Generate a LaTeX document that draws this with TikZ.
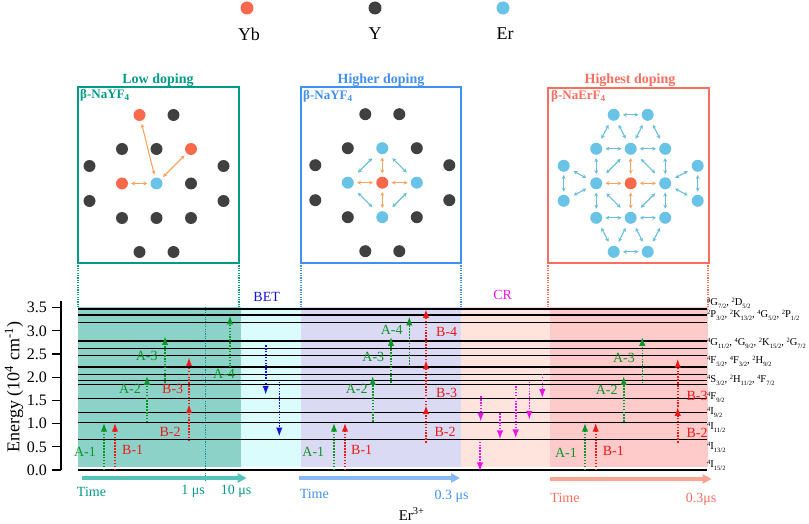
\documentclass[tikz,border=0pt]{standalone}
\usepackage{fontspec}
\setmainfont{Liberation Serif}
\usetikzlibrary{arrows.meta}

\definecolor{ybc}{RGB}{250,105,75}
\definecolor{yc}{RGB}{64,64,64}
\definecolor{erc}{RGB}{105,195,230}
\definecolor{orac}{RGB}{250,165,95}
\definecolor{latblue}{RGB}{105,190,220}
\definecolor{lowc}{RGB}{0,155,135}
\definecolor{highc}{RGB}{65,145,245}
\definecolor{topc}{RGB}{250,110,95}
\definecolor{lowbg}{RGB}{140,210,200}
\definecolor{betbg}{RGB}{218,252,252}
\definecolor{highbg}{RGB}{218,218,245}
\definecolor{crbg}{RGB}{255,228,222}
\definecolor{topbg}{RGB}{255,202,202}
\definecolor{greenA}{RGB}{10,150,40}
\definecolor{redB}{RGB}{240,25,25}
\definecolor{betc}{RGB}{20,20,225}
\definecolor{crc}{RGB}{235,20,235}
\definecolor{lowt}{RGB}{85,195,185}
\definecolor{hight}{RGB}{135,185,245}
\definecolor{topt}{RGB}{250,165,145}

\newcommand{\lv}[3]{\raisebox{3.6pt}{\fontsize{6.5}{6.5}\selectfont #1}#2\raisebox{-2.2pt}{\fontsize{6.5}{6.5}\selectfont #3}}

\begin{document}
\begin{tikzpicture}[x=1pt, y=-1pt,
    declare function={ey(\e)=470-46.4*\e;},
    atom/.style={circle, inner sep=0pt, minimum size=12pt},
    latarr/.style={line width=1.1pt, {Stealth[length=4pt,width=4pt]}-{Stealth[length=4pt,width=4pt]}, shorten <=3pt, shorten >=3pt},
    shortdiag/.style={latarr, shorten <=5pt, shorten >=5pt},
    longdiag/.style={latarr, shorten <=8pt, shorten >=8pt},
    level/.style={line width=1.1pt},
    upA/.style={greenA, line width=1.6pt, dash pattern=on 1.5pt off 1.4pt, -{Latex[length=9pt,width=6.5pt]}},
    upB/.style={upA, redB},
    downbet/.style={upA, betc},
    downcr/.style={upA, crc},
    lab/.style={font=\fontsize{14}{14}\selectfont, inner sep=0pt},
    lvlab/.style={font=\fontsize{10.5}{10.5}\selectfont, inner sep=0pt, anchor=west},
    timearr/.style={line width=3.5pt, -{Triangle[length=9pt,width=9pt]}},
    guide/.style={line width=1.1pt, dash pattern=on 1.2pt off 1.2pt},
    title/.style={font=\bfseries\fontsize{14}{14}\selectfont, inner sep=0pt},
    host/.style={font=\bfseries\fontsize{13}{13}\selectfont, inner sep=0pt, anchor=west},
]
\useasboundingbox (0,0) rectangle (809,524);

% legend
\node[atom, minimum size=13pt, fill=ybc] (dyb) at (247,8) {};
\node[atom, minimum size=13pt, fill=yc] (dy) at (375,8) {};
\node[atom, minimum size=13pt, fill=erc] (der) at (503,8) {};
\node[font=\fontsize{18}{18}\selectfont] (tyb) at (249,34) {Yb};
\node[font=\fontsize{18}{18}\selectfont] (ty) at (375,34) {Y};
\node[font=\fontsize{18}{18}\selectfont] (ter) at (505,34) {Er};

% lattice boxes
\draw[lowc, line width=1.3pt] (78,87) rectangle (239,263);
\draw[highc, line width=1.3pt] (301,87) rectangle (461,263);
\draw[topc, line width=1.3pt] (548,88) rectangle (709,263);
\node[title, lowc] (tlow) at (158,80) {Low doping};
\node[title, highc] (thigh) at (381,80) {Higher doping};
\node[title, topc] (ttop) at (630,80) {Highest doping};
\node[host, lowc] (hlow) at (80,95) {β-NaYF\textsubscript{4}};
\node[host, highc] (hhigh) at (303,96) {β-NaYF\textsubscript{4}};
\node[host, topc] (htop) at (551,96) {β-NaErF\textsubscript{4}};

% low doping
\foreach \n/\dx/\dy/\k in {t1/-17/-68.5/ybc, t2/17/-68.5/yc, a1/-34.5/-34.5/yc, a2/0/-34.5/yc,
    a3/34.5/-34.5/ybc, o1/-67/-17.5/yc, o2/67/-17.5/yc, m1/-34.5/0/ybc, m2/0/0/erc, m3/34.5/0/yc,
    o3/-67/17.5/yc, o4/67/17.5/yc, b1/-34.5/34.5/yc, b2/0/34.5/yc, b3/34.5/34.5/yc,
    u1/-17/68.5/yc, u2/17/68.5/yc}
  \node[atom, fill=\k] (L\n) at ({156.5+\dx},{183.5+\dy}) {};
\foreach \p in {t1, a3, m1}
  \draw[latarr, orac] (Lm2) -- (L\p);

% higher doping
\foreach \n/\dx/\dy/\k in {t1/-17/-68.5/yc, t2/17/-68.5/yc, a1/-34.5/-34.5/yc, a2/0/-34.5/erc,
    a3/34.5/-34.5/yc, o1/-67/-17.5/yc, o2/67/-17.5/yc, m1/-34.5/0/erc, m2/0/0/ybc, m3/34.5/0/erc,
    o3/-67/17.5/yc, o4/67/17.5/yc, b1/-34.5/34.5/yc, b2/0/34.5/erc, b3/34.5/34.5/yc,
    u1/-17/68.5/yc, u2/17/68.5/yc}
  \node[atom, fill=\k] (H\n) at ({382.3+\dx},{182.7+\dy}) {};
\foreach \p in {a2, m1, m3, b2}
  \draw[latarr, orac] (Hm2) -- (H\p);
\foreach \p/\q in {a2/m1, a2/m3, m1/b2, m3/b2}
  \draw[longdiag, latblue] (H\p) -- (H\q);

% highest doping
\foreach \n/\dx/\dy/\k in {t1/-17/-68.5/erc, t2/17/-68.5/erc, a1/-34.5/-34.5/erc, a2/0/-34.5/erc,
    a3/34.5/-34.5/erc, o1/-67/-17.5/erc, o2/67/-17.5/erc, m1/-34.5/0/erc, m2/0/0/ybc, m3/34.5/0/erc,
    o3/-67/17.5/erc, o4/67/17.5/erc, b1/-34.5/34.5/erc, b2/0/34.5/erc, b3/34.5/34.5/erc,
    u1/-17/68.5/erc, u2/17/68.5/erc}
  \node[atom, fill=\k] (T\n) at ({630.7+\dx},{183.3+\dy}) {};
\foreach \p/\q in {t1/t2, a1/a2, a2/a3, a1/m1, a3/m3, o1/o3, o2/o4, m1/b1, m3/b3, b1/b2, b2/b3, u1/u2}
  \draw[latarr, latblue] (T\p) -- (T\q);
\foreach \p/\q in {t1/a1, t1/a2, t2/a2, t2/a3, o1/m1, o3/m1, o2/m3, o4/m3, b1/u1, b2/u1, b2/u2, b3/u2}
  \draw[shortdiag, latblue] (T\p) -- (T\q);
\foreach \p/\q in {a2/m1, a2/m3, m1/b2, m3/b2}
  \draw[longdiag, latblue] (T\p) -- (T\q);
\foreach \p in {a2, m1, m3, b2}
  \draw[latarr, orac] (Tm2) -- (T\p);

% guides from the boxes
\draw[guide, lowc] (78,263) -- (78,307);
\draw[guide, lowc] (239,263) -- (239,307);
\draw[guide, highc] (301,263) -- (301,307);
\draw[guide, highc] (461,263) -- (461,307);
\draw[guide, topc] (548,263) -- (548,309);
\draw[guide, topc] (708,263) -- (708,307);

% energy diagram
\fill[lowbg] (78,307) rectangle (241,467);
\fill[betbg] (241,307) rectangle (301,467);
\fill[highbg] (301,307) rectangle (461,467);
\fill[crbg] (461,307) rectangle (550,467);
\fill[topbg] (550,307) rectangle (708,467);
\draw[guide, lowc] (205.7,307) -- (205.7,482);

\foreach \e in {0,0.66,1.03,1.24,1.54,1.84,1.92,2.05,2.21,2.24,2.46,2.62,2.76,2.79,3.17,3.33,3.36,3.47}
  \draw[level] (78,{ey(\e)}) -- (707,{ey(\e)});

\draw[line width=1.2pt] (61,301) -- (61,470);
\foreach \v/\t [count=\i] in {0/0.0, 0.5/0.5, 1/1.0, 1.5/1.5, 2/2.0, 2.5/2.5, 3/3.0, 3.5/3.5} {
  \draw[line width=1.2pt] (52,{ey(\v)}) -- (61,{ey(\v)});
  \node[anchor=east, font=\fontsize{16}{16}\selectfont, inner sep=0pt] (tick\i) at (47,{ey(\v)}) {\t};
}
\node[rotate=90, font=\fontsize{18}{18}\selectfont] (elab) at (14,387) {Energy (10\textsuperscript{4} cm\textsuperscript{-1})};

% transitions
\foreach \x/\a/\b in {104/0/1.02, 147/1.03/2.03, 165/1.88/2.89, 230/2.22/3.33,
    334/0/1.02, 372.7/1.04/2.03, 391/1.88/2.87, 409.3/2.27/3.31,
    585/0/1.02, 623.7/1.04/2.03, 642.3/1.87/2.87}
  \draw[upA] (\x,{ey(\a)}) -- (\x,{ey(\b)});
\foreach \x/\a/\b in {115/0/1.02, 189/0.62/1.42, 189/1.42/2.43,
    345/0/1.02, 426/0.59/1.40, 426/1.40/2.37, 426/2.37/3.47,
    595.7/0/1.02, 677.7/0.59/1.36, 677.7/1.36/2.40}
  \draw[upB] (\x,{ey(\a)}) -- (\x,{ey(\b)});
\foreach \x/\a/\b in {265.7/2.69/1.62, 279.3/1.90/0.72}
  \draw[downbet] (\x,{ey(\a)}) -- (\x,{ey(\b)});
\foreach \x/\a/\b in {480.7/1.59/1.04, 480/0.61/-0.03, 500/1.22/0.66, 515.7/1.81/0.68, 529.3/1.90/1.08, 542.3/2.07/1.55}
  \draw[downcr] (\x,{ey(\a)}) -- (\x,{ey(\b)});

\foreach \x/\y/\t [count=\i] in {85/451.7/A-1, 130/389/A-2, 146.7/355.7/A-3, 224/374/A-4,
    313.3/451.7/A-1, 356.7/389.3/A-2, 373.3/356.7/A-3, 391.7/330/A-4,
    566/452.7/A-1, 606.7/390/A-2, 624/357.7/A-3}
  \node[lab, greenA] (la\i) at (\x,\y) {\t};
\foreach \x/\y/\t [count=\i] in {132.7/450/B-1, 170/431.7/B-2, 172.7/389/B-3,
    361.7/450/B-1, 445/432.3/B-2, 446.7/393.3/B-3, 446.7/332.3/B-4,
    613.3/451/B-1, 697/433.3/B-2, 697/396/B-3}
  \node[lab, redB] (lb\i) at (\x,\y) {\t};
\node[lab, betc] (bet) at (266.7,296.7) {BET};
\node[lab, crc] (cr) at (502.7,295) {CR};

% level names
\foreach \y/\t [count=\i] in {303/{\lv{4}{G}{7/2}, \lv{2}{D}{5/2}},
    315/{\lv{2}{P}{3/2}, \lv{2}{K}{13/2}, \lv{4}{G}{5/2}, \lv{2}{P}{1/2}},
    343/{\lv{4}{G}{11/2}, \lv{4}{G}{9/2}, \lv{2}{K}{15/2}, \lv{2}{G}{7/2}},
    361/{\lv{4}{F}{5/2}, \lv{4}{F}{3/2}, \lv{2}{H}{9/2}},
    380/{\lv{4}{S}{3/2}, \lv{2}{H}{11/2}, \lv{4}{F}{7/2}},
    397/{\lv{4}{F}{9/2}}, 412/{\lv{4}{I}{9/2}}, 427/{\lv{4}{I}{11/2}},
    447/{\lv{4}{I}{13/2}}, 465/{\lv{4}{I}{15/2}}}
  \node[lvlab] (lv\i) at (707,\y) {\t};

% time axes
\coordinate (lows) at (81.7,478);
\coordinate (lowe) at (246.7,478);
\coordinate (highs) at (299,478);
\coordinate (highe) at (460,478);
\coordinate (tops) at (550,479);
\coordinate (tope) at (711.7,479);
\draw[timearr, lowt] (lows) -- (lowe);
\draw[timearr, hight] (highs) -- (highe);
\draw[timearr, topt] (tops) -- (tope);
\node[lab, lowc] (time1) at (91.5,492) {Time};
\node[lab, lowc] (us1) at (193,491) {1 μs};
\node[lab, lowc] (us10) at (236,491) {10 μs};
\node[lab, highc] (time2) at (314.3,494) {Time};
\node[lab, highc] (us03) at (451.7,496.7) {0.3 μs};
\node[lab, topc] (time3) at (565,497.7) {Time};
\node[lab, topc] (us03b) at (701,499) {0.3μs};
\node[font=\fontsize{15}{15}\selectfont, inner sep=0pt] (er3) at (411.7,514) {Er\textsuperscript{3+}};
\end{tikzpicture}
\end{document}
